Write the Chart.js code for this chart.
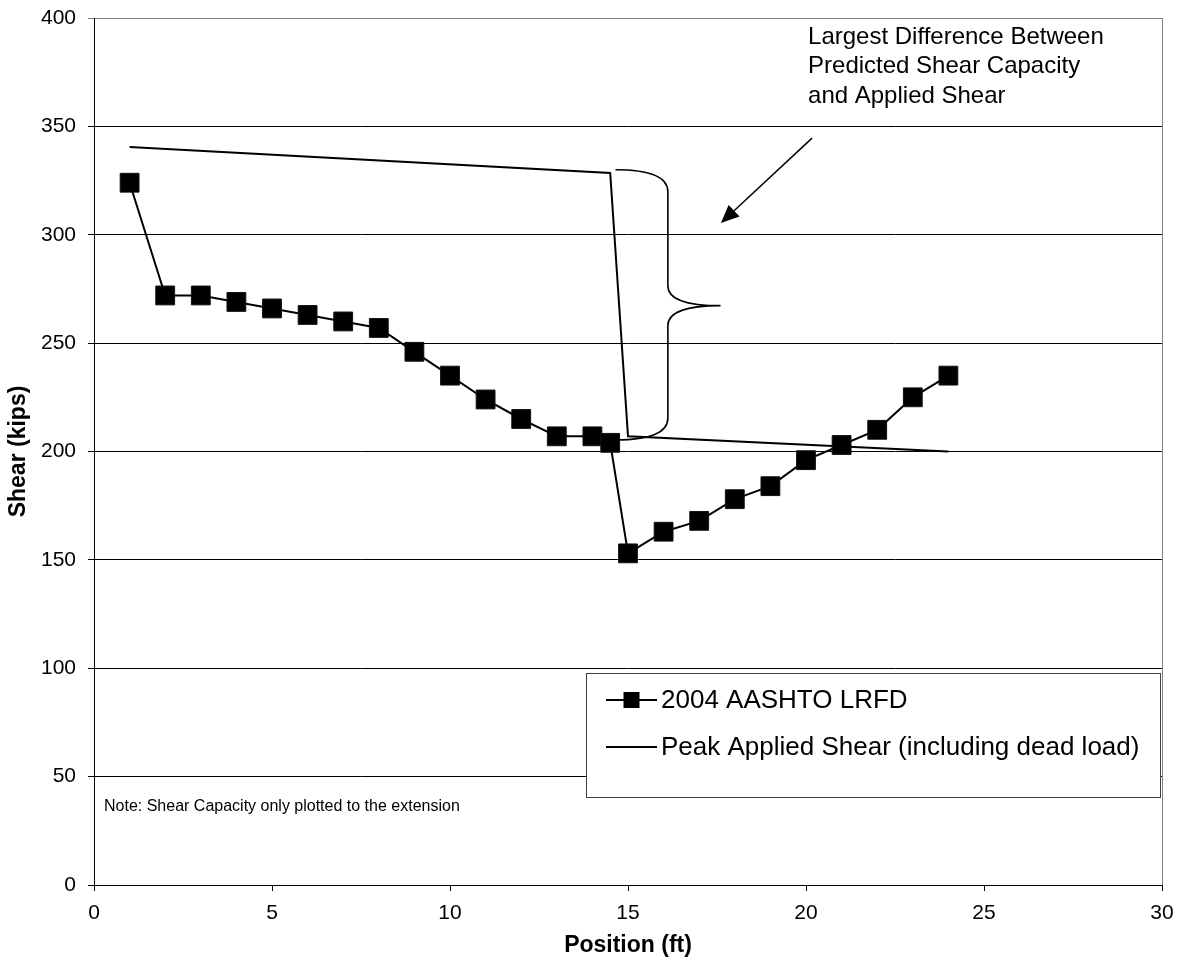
<!DOCTYPE html>
<html>
<head>
<meta charset="utf-8">
<script src="https://cdn.jsdelivr.net/npm/chart.js@4/dist/chart.umd.min.js"></script>
<style>
  html, body { margin: 0; padding: 0; background: #ffffff; }
  #wrap { width: 1183px; height: 972px; }
</style>
</head>
<body>
<div id="wrap"><canvas id="chart" width="1183" height="972"></canvas></div>
<script>
// Shear capacity along the girder (2004 AASHTO LRFD), kips
const positions = [1, 2, 3, 4, 5, 6, 7, 8, 9, 10, 11, 12, 13, 14, 14.5, 15, 16, 17, 18, 19, 20, 21, 22, 23, 24];
const lrfdShear = [324, 272, 272, 269, 266, 263, 260, 257, 246, 235, 224, 215, 207, 207, 204, 153, 163, 168, 178, 184, 196, 203, 210, 225, 235];

// Peak applied shear including dead load, kips
const appliedPositions = [1, 14.5, 15, 24];
const appliedShear = [340.5, 328.5, 207, 200];

// Axis ranges and tick steps
const xRange = [0, 30];
const xStep = 5;
const yRange = [0, 400];
const yStep = 50;

const seriesNames = ['2004 AASHTO LRFD', 'Peak Applied Shear (including dead load)'];
const axisTitles = { x: 'Position (ft)', y: 'Shear (kips)' };

// Callout: brace spanning the gap between capacity and applied shear (data units)
const braceX = [14.65, 16.12, 17.6];       // open end, spine, tip
const braceY = [330, 267.3, 205.3];        // top, tip, bottom
const arrowFrom = [20.17, 344.6];
const arrowTo = [17.61, 305.4];
const calloutLines = ['Largest Difference Between', 'Predicted Shear Capacity', 'and Applied Shear'];
const noteText = 'Note: Shear Capacity only plotted to the extension';

const FONT = "'Liberation Sans', Arial, Helvetica, sans-serif";

const lrfdData = positions.map((x, i) => ({ x, y: lrfdShear[i] }));
const appliedData = appliedPositions.map((x, i) => ({ x, y: appliedShear[i] }));

const overlay = {
  id: 'overlay',
  afterDraw(chart) {
    const { ctx, chartArea: a, scales: { x, y } } = chart;
    const px = v => x.getPixelForValue(v);
    const py = v => y.getPixelForValue(v);
    ctx.save();

    // right plot border
    ctx.strokeStyle = '#808080';
    ctx.lineWidth = 1;
    ctx.beginPath();
    ctx.moveTo(Math.round(a.right) + 0.5, a.top);
    ctx.lineTo(Math.round(a.right) + 0.5, a.bottom);
    ctx.stroke();

    // brace
    const xl = px(braceX[0]), xs = px(braceX[1]), xt = px(braceX[2]);
    const yt = py(braceY[0]), ym = py(braceY[1]), yb = py(braceY[2]);
    const r = 22, rm = 20;
    ctx.strokeStyle = '#000';
    ctx.lineWidth = 1.6;
    ctx.beginPath();
    ctx.moveTo(xl, yt);
    ctx.quadraticCurveTo(xs, yt, xs, yt + r);
    ctx.lineTo(xs, ym - rm);
    ctx.quadraticCurveTo(xs, ym, xt, ym);
    ctx.quadraticCurveTo(xs, ym, xs, ym + rm);
    ctx.lineTo(xs, yb - r);
    ctx.quadraticCurveTo(xs, yb, xl, yb);
    ctx.stroke();

    // arrow
    const x0 = px(arrowFrom[0]), y0 = py(arrowFrom[1]);
    const x1 = px(arrowTo[0]), y1 = py(arrowTo[1]);
    const ang = Math.atan2(y1 - y0, x1 - x0);
    const headL = 18, headW = 8;
    const bx = x1 - headL * Math.cos(ang), by = y1 - headL * Math.sin(ang);
    ctx.lineWidth = 1.5;
    ctx.beginPath();
    ctx.moveTo(x0, y0);
    ctx.lineTo(bx, by);
    ctx.stroke();
    ctx.fillStyle = '#000';
    ctx.beginPath();
    ctx.moveTo(x1, y1);
    ctx.lineTo(bx + headW * Math.sin(ang), by - headW * Math.cos(ang));
    ctx.lineTo(bx - headW * Math.sin(ang), by + headW * Math.cos(ang));
    ctx.closePath();
    ctx.fill();

    // callout text
    ctx.fillStyle = '#000';
    ctx.font = `24px ${FONT}`;
    ctx.textAlign = 'left';
    ctx.textBaseline = 'middle';
    calloutLines.forEach((t, i) => ctx.fillText(t, x0 - 4, a.top + 19 + i * 29.5));

    // note
    ctx.font = `16px ${FONT}`;
    ctx.fillText(noteText, a.left + 10, a.bottom - 78);

    // legend box
    const lx = a.left + 492, ly = a.top + 655, lw = a.right - 2 - lx, lh = 124;
    ctx.fillStyle = '#fff';
    ctx.fillRect(lx, ly, lw, lh);
    ctx.strokeStyle = '#404040';
    ctx.lineWidth = 1;
    ctx.strokeRect(Math.round(lx) + 0.5, Math.round(ly) + 0.5, Math.round(lw), Math.round(lh));
    const rows = [ly + 27, ly + 74];
    const sx0 = lx + 20, sx1 = lx + 71;
    chart.data.datasets.forEach((ds, i) => {
      ctx.strokeStyle = ds.borderColor;
      ctx.lineWidth = ds.borderWidth;
      ctx.beginPath();
      ctx.moveTo(sx0, rows[i]);
      ctx.lineTo(sx1, rows[i]);
      ctx.stroke();
      if (ds.pointRadius > 0) {
        ctx.fillStyle = '#000';
        ctx.fillRect((sx0 + sx1) / 2 - 8, rows[i] - 8, 16, 16);
      }
      ctx.fillStyle = '#000';
      ctx.font = `26px ${FONT}`;
      ctx.textBaseline = 'middle';
      ctx.fillText(ds.label, sx1 + 4, rows[i] + 1);
    });
    ctx.restore();
  }
};

new Chart(document.getElementById('chart'), {
  type: 'scatter',
  data: {
    datasets: [
      {
        label: seriesNames[0],
        data: lrfdData,
        showLine: true,
        borderColor: '#000',
        borderWidth: 2,
        pointStyle: 'rect',
        pointRadius: 13.3,
        pointBackgroundColor: '#000',
        pointBorderColor: '#111',
        pointBorderWidth: 1,
        order: 1
      },
      {
        label: seriesNames[1],
        data: appliedData,
        showLine: true,
        borderColor: '#000',
        borderWidth: 2,
        pointRadius: 0,
        order: 2
      }
    ]
  },
  options: {
    responsive: false,
    animation: false,
    devicePixelRatio: 1,
    layout: { padding: { top: 18, right: 21, left: 0, bottom: 0 } },
    plugins: { legend: { display: false }, tooltip: { enabled: false } },
    scales: {
      x: {
        type: 'linear',
        min: xRange[0],
        max: xRange[1],
        ticks: { stepSize: xStep, color: '#000', padding: 10, font: { family: FONT, size: 21 }, maxRotation: 0 },
        grid: { drawOnChartArea: false, drawTicks: true, tickLength: 6, color: '#000' },
        border: { display: true, color: '#000', width: 1 },
        title: { display: true, text: axisTitles.x, color: '#000', font: { family: FONT, size: 23, weight: 'bold' }, padding: { top: 0, bottom: 13 } },
        afterFit(scale) {
          scale.height = 87;
          scale.paddingLeft = 0;
          scale.paddingRight = 0;
        }
      },
      y: {
        min: yRange[0],
        max: yRange[1],
        ticks: { stepSize: yStep, color: '#000', padding: 12, font: { family: FONT, size: 21 } },
        grid: { drawTicks: true, tickLength: 6, color: c => (c.tick && c.tick.value === yRange[1] ? '#808080' : '#000'), lineWidth: 1 },
        border: { display: true, color: '#000', width: 1 },
        title: { display: true, text: axisTitles.y, color: '#000', font: { family: FONT, size: 23, weight: 'bold' }, padding: { top: 5, bottom: 0 } },
        afterFit(scale) {
          scale.width = 94;
          scale.paddingTop = 0;
          scale.paddingBottom = 0;
        }
      }
    }
  },
  plugins: [overlay]
});
</script>
</body>
</html>
